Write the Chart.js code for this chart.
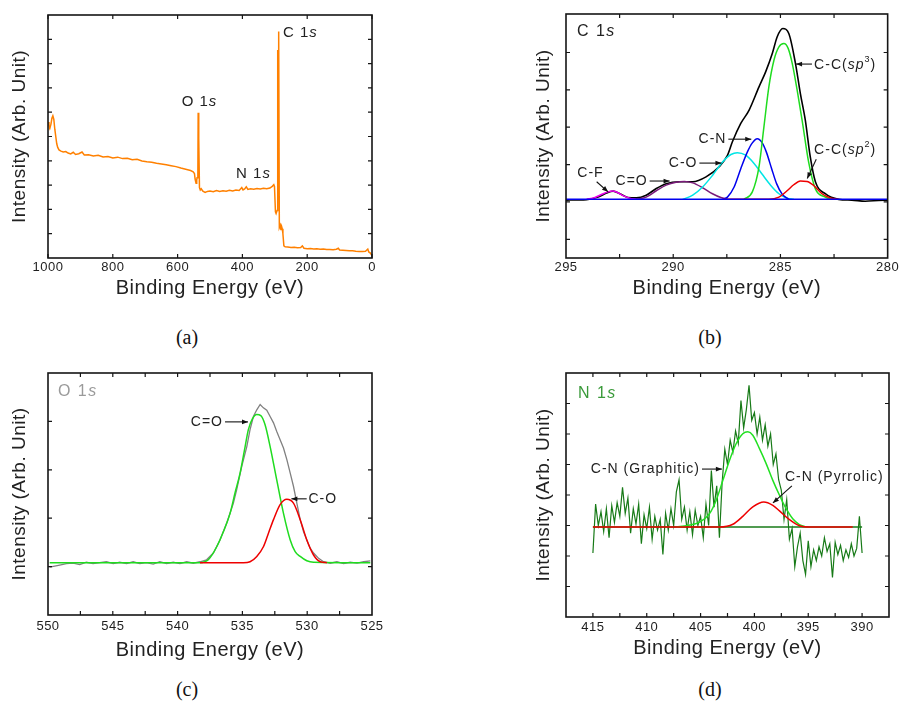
<!DOCTYPE html>
<html lang="en">
<head>
<meta charset="UTF-8">
<title>XPS spectra</title>
<style>
  html, body { margin: 0; padding: 0; background: #fff; }
  body { width: 900px; height: 706px; position: relative; overflow: hidden; }
  .panel { position: absolute; }
  .cap { position: absolute; width: 60px; margin-left: -30px; text-align: center;
         font: 20px "Liberation Serif", "Times New Roman", serif; color: #111; line-height: 24px; }
</style>
</head>
<body>
<canvas id="chart-a" class="panel" width="390" height="310" style="left:0;top:0;width:390px;height:310px"></canvas>
<canvas id="chart-b" class="panel" width="380" height="310" style="left:520px;top:0;width:380px;height:310px"></canvas>
<canvas id="chart-c" class="panel" width="390" height="310" style="left:0;top:360px;width:390px;height:310px"></canvas>
<canvas id="chart-d" class="panel" width="380" height="310" style="left:520px;top:360px;width:380px;height:310px"></canvas>
<div class="cap" style="left:187px;top:325px">(a)</div>
<div class="cap" style="left:710px;top:325px">(b)</div>
<div class="cap" style="left:187px;top:677px">(c)</div>
<div class="cap" style="left:710px;top:677px">(d)</div>

<script src="https://cdn.jsdelivr.net/npm/chart.js"></script>
<script>
// (a) survey spectrum
var surveyE = [1000, 997, 994, 991, 988, 985, 982, 979, 976, 973, 970, 966, 960, 953, 945, 938, 930, 922, 915, 905,
  895, 888, 875, 860, 845, 830, 815, 800, 785, 770, 755, 740, 725, 710, 695, 680, 665, 650, 635, 620, 605, 590, 575,
  560, 552, 548, 546, 543, 541, 540, 537.5, 536.5, 535.5, 534, 532.5, 530, 527, 522, 515, 508, 500, 490, 480, 470,
  460, 450, 440, 430, 420, 410, 402, 398, 393, 388, 383, 375, 365, 355, 345, 335, 325, 315, 307, 303, 301, 298, 296,
  293, 291, 290, 288.5, 287.5, 286, 283, 281, 279, 277, 275, 272, 268, 260, 250, 240, 230, 220, 215, 210, 200, 190,
  180, 170, 160, 150, 140, 130, 120, 110, 104, 100, 90, 80, 70, 60, 50, 40, 30, 20, 13, 10, 5, 0];
var surveyI = [56.0, 54.5, 53.5, 55.0, 57.5, 58.5, 57.0, 53.0, 50.0, 47.0, 45.5, 44.5, 44.0, 43.6, 43.8, 43.2, 42.8,
  43.5, 42.6, 42.9, 43.6, 42.4, 42.5, 42.0, 42.3, 41.6, 41.8, 41.2, 41.5, 40.9, 41.0, 40.4, 40.6, 39.9, 39.6, 39.4,
  39.0, 38.7, 38.4, 38.0, 37.6, 37.0, 36.5, 36.0, 35.5, 34.8, 32.5, 30.8, 32.0, 33.0, 34.0, 59.8, 46.0, 49.2, 29.0,
  28.0, 28.5, 27.5, 27.0, 27.4, 27.6, 27.3, 27.8, 27.4, 27.7, 27.5, 27.9, 27.6, 28.0, 27.8, 29.0, 28.0, 28.4, 29.3,
  28.2, 28.5, 28.3, 28.6, 28.4, 28.7, 28.5, 28.8, 29.6, 30.2, 29.5, 19.0, 18.3, 19.5, 85.6, 83.0, 93.2, 92.0, 12.5,
  13.5, 11.5, 13.0, 12.0, 10.0, 5.0, 4.6, 4.5, 4.3, 4.4, 4.2, 4.3, 5.0, 4.0, 3.8, 3.9, 3.7, 3.8, 3.6, 3.7, 3.5, 3.5,
  3.4, 3.6, 4.0, 3.3, 3.2, 3.1, 3.0, 3.0, 2.8, 2.7, 2.7, 2.8, 3.7, 2.5, 2.0, 1.0];

// (b) C 1s
var c1sE = [295.00, 294.04, 293.50, 293.11, 292.80, 292.49, 292.11, 291.72, 291.26, 290.79, 290.33, 289.71, 289.09,
  288.47, 287.86, 287.47, 287.24, 286.85, 286.46, 286.00, 285.69, 285.38, 285.15, 284.89, 284.61, 284.30, 284.07,
  283.84, 283.61, 283.37, 282.91, 282.29, 281.67, 281.05, 280.43, 280.00];
var c1sI = [1.55, 1.56, 1.63, 1.74, 1.79, 1.72, 1.62, 1.61, 1.68, 1.86, 1.99, 2.04, 2.04, 2.17, 2.44, 2.75, 3.11,
  3.60, 3.96, 4.58, 4.98, 5.47, 5.92, 6.14, 6.01, 5.21, 4.40, 3.69, 2.71, 2.04, 1.72, 1.57, 1.55, 1.52, 1.54, 1.55];
var sp3E = [286.70, 286.31, 286.00, 285.77, 285.54, 285.30, 285.07, 284.84, 284.64, 284.45, 284.22, 283.99, 283.68,
  283.37, 282.91, 282.60];
var sp3I = [1.57, 1.77, 2.44, 3.51, 4.58, 5.30, 5.65, 5.74, 5.61, 5.21, 4.49, 3.69, 2.55, 1.85, 1.63, 1.57];
var cnE = [287.70, 287.47, 287.16, 286.85, 286.54, 286.31, 286.08, 285.85, 285.66, 285.41, 285.18, 284.92, 284.61];
var cnI = [1.57, 1.63, 1.90, 2.39, 2.84, 3.08, 3.19, 3.08, 2.84, 2.39, 1.99, 1.71, 1.57];
var coE = [289.56, 289.09, 288.63, 288.17, 287.70, 287.31, 287.01, 286.62, 286.23, 285.85, 285.46, 285.07, 284.69, 284.38];
var coI = [1.57, 1.68, 1.90, 2.21, 2.57, 2.77, 2.82, 2.75, 2.53, 2.24, 1.95, 1.72, 1.60, 1.57];
var cdoE = [291.72, 291.26, 290.79, 290.33, 289.87, 289.48, 289.09, 288.63, 288.17, 287.78, 287.47];
var cdoI = [1.57, 1.63, 1.80, 1.95, 2.03, 2.05, 2.01, 1.88, 1.72, 1.62, 1.57];
var cfE = [294.04, 293.65, 293.35, 293.04, 292.84, 292.62, 292.34, 292.03, 291.72];
var cfI = [1.57, 1.62, 1.70, 1.77, 1.79, 1.76, 1.67, 1.60, 1.57];
var sp2E = [287.70, 285.54, 285.07, 284.69, 284.38, 284.07, 283.76, 283.45, 283.06, 282.68, 282.29];
var sp2I = [1.57, 1.57, 1.63, 1.80, 1.96, 2.06, 2.05, 1.94, 1.72, 1.61, 1.57];
var c1sBaseE = [295, 280];
var c1sBaseI = [1.57, 1.57];

// (c) O 1s
var o1sE = [549.87, 549.10, 548.58, 548.07, 547.55, 547.04, 546.52, 546.01, 545.49, 544.97, 544.46, 543.94, 543.43,
  542.91, 542.40, 541.88, 541.37, 540.85, 540.34, 539.82, 539.30, 538.79, 538.27, 537.76, 537.24, 536.73, 536.21,
  535.70, 535.44, 535.05, 534.66, 534.41, 534.15, 533.89, 533.63, 533.38, 533.12, 532.86, 532.60, 532.35, 532.09,
  531.83, 531.57, 531.31, 531.06, 530.80, 530.54, 530.28, 530.03, 529.77, 529.51, 529.12, 528.74, 528.22, 527.71,
  527.19, 526.68, 526.16, 525.64, 525.13];
var o1sI = [0.99, 1.03, 1.06, 1.07, 1.04, 1.09, 1.06, 1.08, 1.10, 1.06, 1.09, 1.06, 1.10, 1.06, 1.08, 1.05, 1.10,
  1.06, 1.09, 1.06, 1.10, 1.07, 1.10, 1.14, 1.28, 1.55, 1.90, 2.31, 2.59, 3.07, 3.48, 3.83, 4.10, 4.24, 4.35, 4.28,
  4.23, 4.10, 3.97, 3.79, 3.62, 3.45, 3.21, 2.93, 2.66, 2.31, 1.97, 1.72, 1.55, 1.38, 1.28, 1.17, 1.10, 1.07, 1.10,
  1.06, 1.09, 1.07, 1.10, 1.12];
var cdoOE = [549.87, 538.27, 537.63, 536.98, 536.47, 535.95, 535.57, 535.18, 534.79, 534.54, 534.23, 533.89, 533.58,
  533.25, 532.86, 532.35, 531.83, 531.31, 530.93, 530.54, 530.03, 529.51, 525.13];
var cdoOI = [1.08, 1.08, 1.14, 1.41, 1.72, 2.10, 2.52, 2.93, 3.48, 3.83, 4.05, 4.14, 4.12, 3.93, 3.48, 2.79, 2.10,
  1.55, 1.31, 1.21, 1.12, 1.09, 1.08];
var coOE = [538.27, 534.92, 534.41, 533.89, 533.38, 532.99, 532.60, 532.09, 531.57, 531.06, 530.54, 530.03, 529.51,
  528.99, 528.48];
var coOI = [1.08, 1.08, 1.10, 1.21, 1.41, 1.69, 1.97, 2.28, 2.39, 2.31, 1.97, 1.55, 1.24, 1.10, 1.08];

// (d) N 1s
var n1sE = [415.00, 414.75, 414.50, 414.25, 414.00, 413.75, 413.50, 413.25, 413.00, 412.75, 412.50, 412.25, 412.00,
  411.75, 411.50, 411.25, 411.00, 410.75, 410.50, 410.25, 410.00, 409.75, 409.50, 409.25, 409.00, 408.75, 408.50,
  408.25, 408.00, 407.75, 407.50, 407.25, 407.00, 406.75, 406.50, 406.25, 406.00, 405.75, 405.50, 405.25, 405.00,
  404.75, 404.50, 404.25, 404.00, 403.75, 403.50, 403.25, 403.00, 402.75, 402.50, 402.25, 402.00, 401.75, 401.50,
  401.25, 401.00, 400.75, 400.50, 400.25, 400.00, 399.75, 399.50, 399.25, 399.00, 398.75, 398.50, 398.25, 398.00,
  397.75, 397.50, 397.25, 397.00, 396.75, 396.50, 396.25, 396.00, 395.75, 395.50, 395.25, 395.00, 394.75, 394.50,
  394.25, 394.00, 393.75, 393.50, 393.25, 393.00, 392.75, 392.50, 392.25, 392.00, 391.75, 391.50, 391.25, 391.00,
  390.75, 390.50, 390.25, 390.00];
var n1sI = [2.10, 3.70, 3.00, 3.45, 2.80, 3.55, 2.60, 3.65, 3.10, 3.75, 3.30, 4.25, 3.40, 3.90, 2.75, 3.55, 3.05,
  3.70, 2.40, 3.35, 2.90, 3.60, 2.55, 3.30, 2.85, 3.20, 2.05, 3.40, 2.85, 3.55, 3.00, 4.10, 4.50, 3.20, 3.60, 2.85,
  3.45, 2.70, 3.50, 3.00, 3.30, 2.60, 3.70, 3.00, 4.80, 3.60, 4.30, 2.60, 4.40, 5.50, 5.00, 5.80, 5.40, 6.10, 5.70,
  7.10, 6.20, 6.80, 7.60, 6.45, 6.70, 6.00, 6.55, 5.80, 6.30, 5.60, 6.00, 5.00, 5.35, 4.50, 4.15, 3.20, 3.85, 2.55,
  2.90, 1.65, 2.30, 2.75, 1.85, 1.40, 2.50, 1.65, 2.20, 1.85, 2.30, 2.00, 2.60, 2.15, 2.40, 1.30, 2.45, 2.05, 2.35,
  1.85, 2.20, 1.95, 2.40, 2.00, 2.25, 3.30, 2.10];
var graphE = [407.26, 406.20, 405.10, 404.17, 403.55, 402.93, 402.31, 401.70, 401.08, 400.61, 400.15, 399.53, 398.91,
  398.29, 397.67, 397.05, 396.44, 395.82, 395.20];
var graphI = [2.95, 3.00, 3.11, 3.39, 3.83, 4.48, 5.14, 5.68, 6.01, 6.07, 5.96, 5.52, 5.03, 4.48, 3.99, 3.55, 3.22,
  3.03, 2.95];
var pyrrE = [415, 403.24, 402.00, 401.08, 400.15, 399.13, 398.29, 397.67, 396.74, 395.82, 394.89, 390.87];
var pyrrI = [2.95, 2.95, 3.04, 3.30, 3.61, 3.77, 3.66, 3.48, 3.19, 2.99, 2.95, 2.95];
var n1sBaseE = [415, 390];
var n1sBaseI = [2.95, 2.95];

// axis ticks
var xLabelsA = [1000, 800, 600, 400, 200, 0];
var xLabelsB = [295, 290, 285, 280];
var xLabelsC = [550, 545, 540, 535, 530, 525];
var xLabelsD = [415, 410, 405, 400, 395, 390];
var xMarksB = [282.5, 285, 287.5, 290, 292.5];
var xMarksC = [527.5, 530, 532.5, 535, 537.5, 540, 542.5, 545, 547.5];
var xMarksD = [390, 392.5, 395, 397.5, 400, 402.5, 405, 407.5, 410, 412.5, 415];
var yMarksA = [10, 20, 30, 40, 50, 60, 70, 80, 90];
var yMarksB = [0.5, 1.5, 2.5, 3.5, 4.5, 5.5];
var yMarksC = [1, 2, 3, 4];
var yMarksD = [1, 2, 3, 4, 5, 6, 7];

var FONT = '"Liberation Sans", Arial, Helvetica, sans-serif';
var TICK = 4;

function pts(xs, ys) {
  return xs.map(function (x, i) { return {x: x, y: ys[i]}; });
}

function line(xs, ys, color, width, smooth) {
  return {
    data: pts(xs, ys),
    borderColor: color,
    borderWidth: width,
    pointRadius: 0,
    fill: false,
    tension: 0,
    cubicInterpolationMode: smooth ? 'monotone' : 'default'
  };
}

function drawNote(ctx, n, px, py) {
  var size = n.size || 14;
  ctx.letterSpacing = (n.spacing === undefined ? 1 : n.spacing) + 'px';
  ctx.textBaseline = 'middle';
  ctx.textAlign = 'left';
  ctx.fillStyle = n.color || '#222';
  var runs = n.text.map(function (r) {
    var st = r[1] || '';
    var fs = st === 'sup' ? Math.round(size * 0.65) : size;
    return {t: r[0], st: st, font: (st === 'i' ? 'italic ' : '') + fs + 'px ' + FONT};
  });
  var w = 0;
  runs.forEach(function (r) { ctx.font = r.font; r.w = ctx.measureText(r.t).width; w += r.w; });
  var cx = n.align === 'right' ? px - w : n.align === 'center' ? px - w / 2 : px;
  runs.forEach(function (r) {
    ctx.font = r.font;
    ctx.fillText(r.t, cx, r.st === 'sup' ? py - size * 0.38 : py);
    cx += r.w;
  });
}

function drawArrow(ctx, x1, y1, x2, y2) {
  ctx.beginPath();
  ctx.moveTo(x1, y1);
  ctx.lineTo(x2, y2);
  ctx.stroke();
  var ang = Math.atan2(y2 - y1, x2 - x1), L = 6, W = 2.4;
  ctx.beginPath();
  ctx.moveTo(x2, y2);
  ctx.lineTo(x2 - L * Math.cos(ang) + W * Math.sin(ang), y2 - L * Math.sin(ang) - W * Math.cos(ang));
  ctx.lineTo(x2 - L * Math.cos(ang) - W * Math.sin(ang), y2 - L * Math.sin(ang) + W * Math.cos(ang));
  ctx.closePath();
  ctx.fill();
}

// frame with inward ticks + labels/arrows
function decor(cfg) {
  return {
    id: 'decor',
    beforeDraw: function (chart) { chart.ctx.letterSpacing = '0.5px'; },
    afterDraw: function (chart) {
      var ctx = chart.ctx, a = chart.chartArea, sx = chart.scales.x, sy = chart.scales.y;
      ctx.save();
      ctx.strokeStyle = '#151515';
      ctx.lineWidth = 1.6;
      ctx.strokeRect(a.left, a.top, a.right - a.left, a.bottom - a.top);
      ctx.lineWidth = 1.2;
      ctx.beginPath();
      cfg.xMarks.forEach(function (v) {
        var px = sx.getPixelForValue(v);
        ctx.moveTo(px, a.bottom); ctx.lineTo(px, a.bottom - TICK);
        ctx.moveTo(px, a.top); ctx.lineTo(px, a.top + TICK);
      });
      cfg.yMarks.forEach(function (v) {
        var py = sy.getPixelForValue(v);
        ctx.moveTo(a.left, py); ctx.lineTo(a.left + TICK, py);
        ctx.moveTo(a.right, py); ctx.lineTo(a.right - TICK, py);
      });
      ctx.stroke();
      cfg.notes.forEach(function (n) {
        drawNote(ctx, n, sx.getPixelForValue(n.x), sy.getPixelForValue(n.y));
      });
      ctx.fillStyle = '#111';
      ctx.strokeStyle = '#111';
      ctx.lineWidth = 1.1;
      (cfg.arrows || []).forEach(function (r) {
        drawArrow(ctx, sx.getPixelForValue(r[0]), sy.getPixelForValue(r[1]),
          sx.getPixelForValue(r[2]), sy.getPixelForValue(r[3]));
      });
      ctx.restore();
    }
  };
}

function makePanel(id, cfg) {
  return new Chart(document.getElementById(id), {
    type: 'line',
    data: {datasets: cfg.datasets},
    options: {
      responsive: false,
      animation: false,
      devicePixelRatio: 1,
      events: [],
      layout: {padding: cfg.pad},
      plugins: {legend: {display: false}, tooltip: {enabled: false}},
      scales: {
        x: {
          type: 'linear', reverse: true, min: cfg.xMin, max: cfg.xMax,
          grid: {display: false, drawTicks: false},
          border: {display: false},
          ticks: {
            color: '#1e1e1e', font: {family: FONT, size: 13}, padding: cfg.tickPad,
            autoSkip: false, maxRotation: 0, callback: function (v) { return String(v); }
          },
          afterBuildTicks: function (s) { s.ticks = cfg.xLabels.map(function (v) { return {value: v}; }); },
          afterFit: function (s) { s.height = cfg.xAxisH; },
          title: {
            display: true, text: 'Binding Energy (eV)', color: '#222',
            font: {family: FONT, size: 20}, padding: {top: 0, bottom: cfg.titlePad}
          }
        },
        y: {
          min: cfg.yMin, max: cfg.yMax,
          grid: {display: false, drawTicks: false},
          border: {display: false},
          ticks: {display: false},
          afterFit: function (s) { s.width = cfg.yAxisW; },
          title: {
            display: true, text: 'Intensity (Arb. Unit)', color: '#222',
            font: {family: FONT, size: 19}, padding: {top: cfg.yTitlePad, bottom: 0}
          }
        }
      }
    },
    plugins: [decor(cfg)]
  });
}

makePanel('chart-a', {
  datasets: [line(surveyE, surveyI, '#ff8000', 1.5, false)],
  xMin: 0, xMax: 1000, yMin: 0, yMax: 100,
  pad: {left: 0, top: 15, right: 18, bottom: 0}, yAxisW: 48, xAxisH: 52,
  tickPad: 1.5, titlePad: 10, yTitlePad: 8.6,
  xLabels: xLabelsA, xMarks: xLabelsA, yMarks: yMarksA,
  notes: [
    {x: 274.7, y: 92.6, text: [['C 1'], ['s', 'i']], align: 'left', size: 15},
    {x: 532.4, y: 64.2, text: [['O 1'], ['s', 'i']], align: 'center', size: 15},
    {x: 365.7, y: 34.6, text: [['N 1'], ['s', 'i']], align: 'center', size: 15}
  ]
});

makePanel('chart-b', {
  datasets: [
    line(c1sBaseE, c1sBaseI, '#0000ee', 1.5, false),
    line(sp2E, sp2I, '#ee0000', 1.5, true),
    line(sp3E, sp3I, '#1fdc1f', 1.5, true),
    line(cnE, cnI, '#0000ee', 1.5, true),
    line(coE, coI, '#00e5e5', 1.5, true),
    line(cdoE, cdoI, '#7a1a7a', 1.5, true),
    line(cfE, cfI, '#ee00ee', 1.5, true),
    line(c1sE, c1sI, '#000000', 1.6, true)
  ],
  xMin: 280, xMax: 295, yMin: 0, yMax: 6.53,
  pad: {left: 0, top: 14, right: 11, bottom: 0}, yAxisW: 46, xAxisH: 52,
  tickPad: 1.5, titlePad: 10, yTitlePad: 11.9,
  xLabels: xLabelsB, xMarks: xMarksB, yMarks: yMarksB,
  notes: [
    {x: 294.49, y: 6.05, text: [['C 1'], ['s', 'i']], align: 'left', size: 16, spacing: 1.5},
    {x: 283.43, y: 5.16, text: [['C-C('], ['sp', 'i'], ['3', 'sup'], [')']], align: 'left'},
    {x: 283.43, y: 2.89, text: [['C-C('], ['sp', 'i'], ['2', 'sup'], [')']], align: 'left'},
    {x: 287.52, y: 3.18, text: [['C-N']], align: 'right'},
    {x: 288.87, y: 2.54, text: [['C-O']], align: 'right'},
    {x: 291.19, y: 2.06, text: [['C=O']], align: 'right'},
    {x: 293.86, y: 2.27, text: [['C-F']], align: 'center'}
  ],
  arrows: [
    [283.53, 5.19, 284.27, 5.19],
    [283.33, 2.64, 283.75, 2.13],
    [287.43, 3.18, 286.36, 3.18],
    [288.78, 2.54, 287.75, 2.54],
    [291.10, 2.06, 290.17, 2.06],
    [293.57, 2.04, 293.04, 1.77]
  ]
});

makePanel('chart-c', {
  datasets: [
    line(coOE, coOI, '#ee0000', 1.5, true),
    line(cdoOE, cdoOI, '#1fdc1f', 1.5, true),
    line(o1sE, o1sI, '#808080', 1.3, false)
  ],
  xMin: 525, xMax: 550, yMin: 0, yMax: 5,
  pad: {left: 0, top: 13, right: 18, bottom: 0}, yAxisW: 48, xAxisH: 55,
  tickPad: 3.3, titlePad: 8, yTitlePad: 8.6,
  xLabels: xLabelsC, xMarks: xMarksC, yMarks: yMarksC,
  notes: [
    {x: 549.23, y: 4.61, text: [['O 1'], ['s', 'i']], align: 'left', size: 16, spacing: 1.5, color: '#9a9a9a'},
    {x: 536.50, y: 3.99, text: [['C=O']], align: 'right'},
    {x: 529.90, y: 2.40, text: [['C-O']], align: 'left'}
  ],
  arrows: [
    [536.34, 3.99, 534.57, 3.99],
    [530.04, 2.40, 531.22, 2.40]
  ]
});

makePanel('chart-d', {
  datasets: [
    line(pyrrE, pyrrI, '#ee0000', 1.5, true),
    line(graphE, graphI, '#22e022', 1.5, true),
    line(n1sBaseE, n1sBaseI, '#177a17', 1.5, false),
    line(n1sE, n1sI, '#177a17', 1.2, false)
  ],
  xMin: 387.5, xMax: 417.5, yMin: 0, yMax: 8,
  pad: {left: 0, top: 13, right: 11, bottom: 0}, yAxisW: 46, xAxisH: 53,
  tickPad: 2.6, titlePad: 10, yTitlePad: 11.9,
  xLabels: xLabelsD, xMarks: xMarksD, yMarks: yMarksD,
  notes: [
    {x: 416.39, y: 7.34, text: [['N 1'], ['s', 'i']], align: 'left', size: 16, spacing: 1.5, color: '#3a9a3a'},
    {x: 405.06, y: 4.85, text: [['C-N (Graphitic)']], align: 'right'},
    {x: 397.17, y: 4.59, text: [['C-N (Pyrrolic)']], align: 'left'}
  ],
  arrows: [
    [404.87, 4.85, 403.02, 4.85],
    [396.52, 4.30, 398.28, 3.74]
  ]
});
</script>
</body>
</html>
